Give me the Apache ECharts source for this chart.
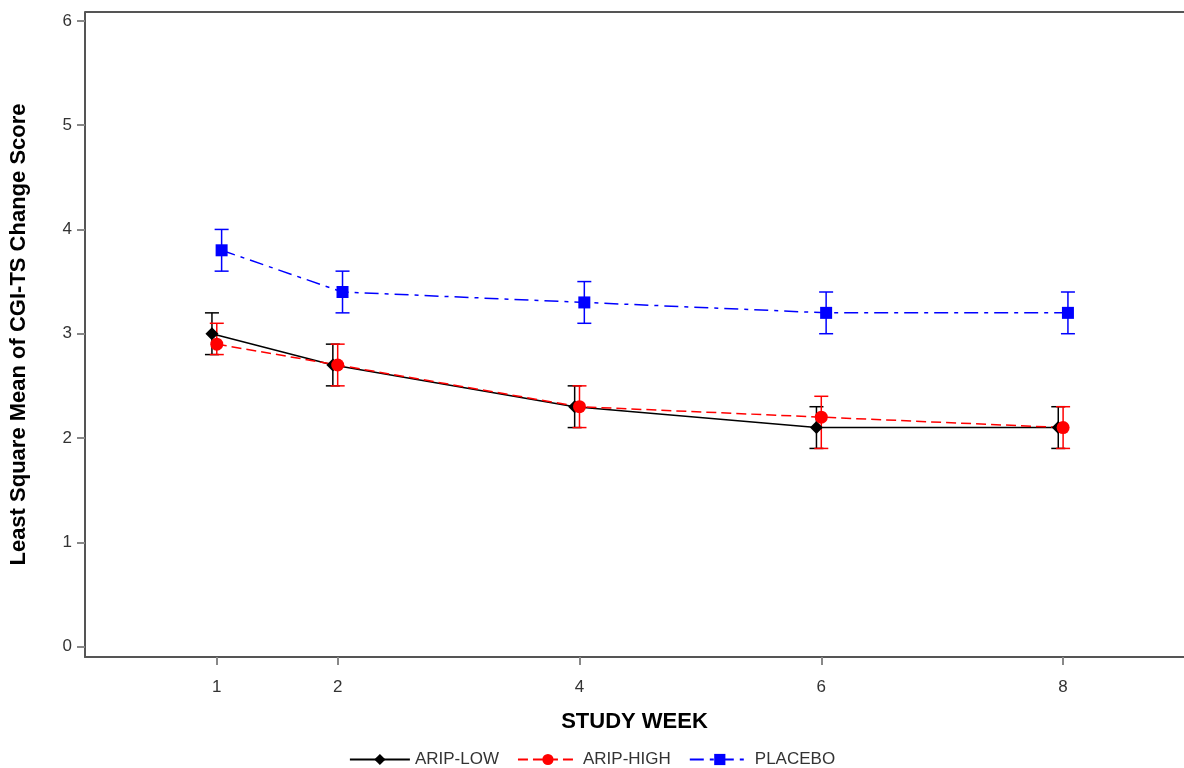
<!DOCTYPE html>
<html>
<head>
<meta charset="utf-8">
<script src="https://cdn.jsdelivr.net/npm/echarts@6/dist/echarts.min.js"></script>
<style>
html,body{margin:0;padding:0;background:#fff;}
#chart{width:1184px;height:768px;}
</style>
</head>
<body>
<div id="chart"></div>
<script>
const weeks = [1, 2, 4, 6, 8];
const xTicks = [1, 2, 4, 6, 8];
const yTicks = [0, 1, 2, 3, 4, 5, 6];
const seriesNames = ['ARIP-LOW', 'ARIP-HIGH', 'PLACEBO'];
const lowMean  = [3.0, 2.7, 2.3, 2.1, 2.1];
const lowLower = [2.8, 2.5, 2.1, 1.9, 1.9];
const lowUpper = [3.2, 2.9, 2.5, 2.3, 2.3];
const highMean  = [2.9, 2.7, 2.3, 2.2, 2.1];
const highLower = [2.8, 2.5, 2.1, 1.9, 1.9];
const highUpper = [3.1, 2.9, 2.5, 2.4, 2.3];
const pboMean  = [3.8, 3.4, 3.3, 3.2, 3.2];
const pboLower = [3.6, 3.2, 3.1, 3.0, 3.0];
const pboUpper = [4.0, 3.6, 3.5, 3.4, 3.4];

const groups = [
  {name: seriesNames[0], mean: lowMean, lo: lowLower, hi: lowUpper, color: '#000000', symbol: 'diamond', size: 13, dash: 'solid', off: -0.04},
  {name: seriesNames[1], mean: highMean, lo: highLower, hi: highUpper, color: '#ff0000', symbol: 'circle', size: 13, dash: [10, 5], off: 0},
  {name: seriesNames[2], mean: pboMean, lo: pboLower, hi: pboUpper, color: '#0000ff', symbol: 'rect', size: 12, dash: [14, 6, 4, 6], off: 0.04}
];

const series = [];
groups.forEach(g => {
  series.push({
    type: 'custom',
    name: g.name + ' CI',
    silent: true,
    z: 2,
    data: weeks.map((w, i) => [w + g.off, g.lo[i], g.hi[i]]),
    renderItem: function (params, api) {
      const x = api.value(0);
      const p1 = api.coord([x, api.value(1)]);
      const p2 = api.coord([x, api.value(2)]);
      const hw = 7;
      const st = {stroke: g.color, lineWidth: 1.5};
      return {
        type: 'group',
        children: [
          {type: 'line', shape: {x1: p1[0], y1: p1[1], x2: p2[0], y2: p2[1]}, style: st},
          {type: 'line', shape: {x1: p1[0] - hw, y1: p1[1], x2: p1[0] + hw, y2: p1[1]}, style: st},
          {type: 'line', shape: {x1: p2[0] - hw, y1: p2[1], x2: p2[0] + hw, y2: p2[1]}, style: st}
        ]
      };
    }
  });
  series.push({
    type: 'line',
    name: g.name,
    z: 3,
    data: weeks.map((w, i) => [w + g.off, g.mean[i]]),
    symbol: g.symbol,
    symbolSize: g.size,
    showAllSymbol: true,
    itemStyle: {color: g.color},
    lineStyle: {color: g.color, width: 1.5, type: g.dash},
    animation: false
  });
});

const chart = echarts.init(document.getElementById('chart'), null, {renderer: 'canvas'});
chart.setOption({
  animation: false,
  backgroundColor: '#ffffff',
  textStyle: {fontFamily: 'Liberation Sans, Arial, sans-serif'},
  grid: {left: 85, right: 0, top: 12, bottom: 111, containLabel: false},
  legend: {
    data: seriesNames,
    top: 746,
    left: 'center',
    itemWidth: 60,
    itemHeight: 14,
    itemGap: 18,
    textStyle: {fontSize: 17, color: '#333', fontFamily: 'Liberation Sans, Arial, sans-serif'}
  },
  xAxis: {
    type: 'value',
    min: -0.09,
    max: 9,
    name: 'STUDY WEEK',
    nameLocation: 'middle',
    nameGap: 54,
    nameTextStyle: {fontSize: 22, fontWeight: 'bold', color: '#000', fontFamily: 'Liberation Sans, Arial, sans-serif'},
    splitLine: {show: false},
    axisLine: {onZero: false, lineStyle: {color: '#555', width: 2}},
    axisTick: {show: true, length: 8, lineStyle: {color: '#888', width: 2}, customValues: xTicks},
    axisLabel: {fontSize: 17, color: '#333', margin: 22, customValues: xTicks,
      formatter: v => String(v)}
  },
  yAxis: {
    type: 'value',
    min: -0.1,
    max: 6.085,
    name: 'Least Square Mean of CGI-TS Change Score',
    nameLocation: 'middle',
    nameGap: 55,
    nameTextStyle: {fontSize: 22, fontWeight: 'bold', color: '#000', fontFamily: 'Liberation Sans, Arial, sans-serif'},
    splitLine: {show: false},
    axisLine: {onZero: false, lineStyle: {color: '#555', width: 2}},
    axisTick: {show: true, length: 8, lineStyle: {color: '#888', width: 2}, customValues: yTicks},
    axisLabel: {fontSize: 17, color: '#333', margin: 13, customValues: yTicks, formatter: v => String(v)}
  },
  graphic: [
    {type: 'line', shape: {x1: 85, y1: 12, x2: 1184, y2: 12}, style: {stroke: '#555', lineWidth: 2}, silent: true}
  ],
  series: series
});
</script>
</body>
</html>
